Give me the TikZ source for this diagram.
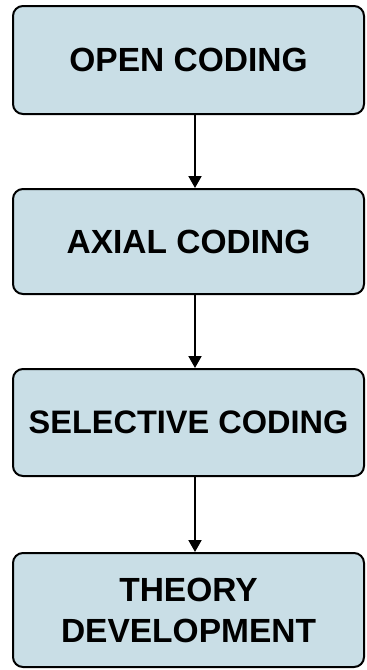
\documentclass[tikz,border=0pt]{standalone}
\usepackage{fontspec}
\setmainfont{Liberation Sans}
\usetikzlibrary{arrows.meta}
\definecolor{boxfill}{HTML}{C9DEE6}
\tikzset{
  stagebox/.style={draw=black, line width=2pt, rounded corners=10pt, fill=boxfill,
    minimum width=351pt, align=center, inner sep=0pt,
    font=\fontsize{33.5}{42}\selectfont\bfseries},
  flowarrow/.style={draw=black, line width=2pt, -{Triangle[width=13pt,length=12pt]}}
}
\begin{document}
\begin{tikzpicture}[x=1pt,y=1pt]
\useasboundingbox (0,0) rectangle (367,-670);
\node[stagebox, minimum height=108pt] (open) at (188.5,-60) {OPEN CODING};
\node[stagebox, minimum height=105pt] (axial) at (188.5,-241.5) {AXIAL CODING};
\node[stagebox, minimum height=107pt, font=\fontsize{32.5}{42}\selectfont\bfseries] (selective) at (188.5,-422.5) {SELECTIVE CODING};
\node[stagebox, minimum height=114pt] (theory) at (188.5,-610) {THEORY\\[-1pt]DEVELOPMENT};
\draw[flowarrow] ([xshift=6.5pt]open.south) -- ([xshift=6.5pt]axial.north);
\draw[flowarrow] ([xshift=6.5pt]axial.south) -- ([xshift=6.5pt]selective.north);
\draw[flowarrow] ([xshift=6.5pt]selective.south) -- ([xshift=6.5pt]theory.north);
\end{tikzpicture}
\end{document}
